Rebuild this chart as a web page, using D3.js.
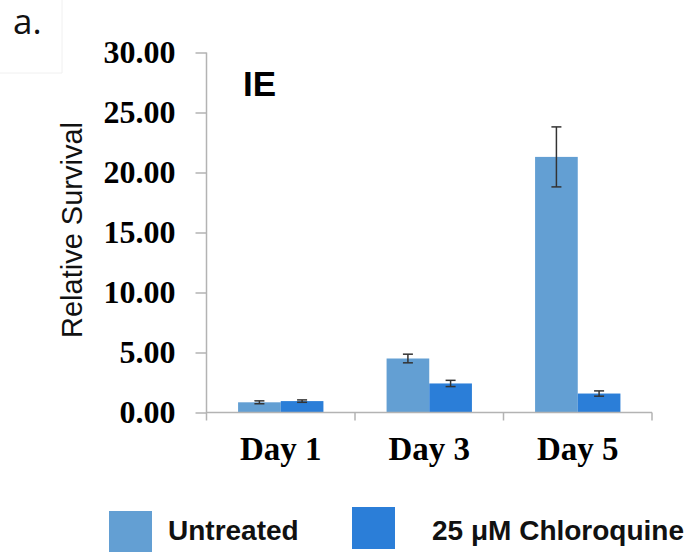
<!DOCTYPE html>
<html>
<head>
<meta charset="utf-8">
<script src="https://cdn.jsdelivr.net/npm/d3@7"></script>
<style>
  body { margin: 0; background: #fff; }
  svg { display: block; }
</style>
</head>
<body>
<div id="chart"></div>
<script>
// chart data
var days = ["Day 1", "Day 3", "Day 5"];
var series = ["Untreated", "25 \u03bcM Chloroquine"];
var untreated = [0.85, 4.5, 21.3];
var untreatedErr = [0.12, 0.36, 2.5];
var chloroquine = [0.95, 2.42, 1.58];
var chloroquineErr = [0.1, 0.26, 0.22];
var yTicks = [0, 5, 10, 15, 20, 25, 30];
var colors = ["#639fd3", "#2b7ed8"];

var width = 692, height = 552;

var svg = d3.select("#chart").append("svg")
  .attr("width", width)
  .attr("height", height);

// faint frame round the panel letter
svg.append("path")
  .attr("d", "M62,0V73H0")
  .attr("fill", "none")
  .attr("stroke", "#f0f0f0");

svg.append("text")
  .attr("x", 13).attr("y", 34)
  .style("font-family", "'Open Sans', sans-serif")
  .style("font-size", "35px")
  .attr("fill", "#111")
  .text("a.");

// scales
var y = d3.scaleLinear().domain([0, 30]).range([412.5, 52.5]);
var x0 = d3.scaleBand().domain(days).range([206.5, 652]).padding(0);
var x1 = d3.scaleBand().domain(series).range([0, x0.bandwidth()])
  .paddingInner(0).paddingOuter(0.74);

// rows for the bars
var rows = [];
days.forEach(function(d, i) {
  rows.push({day: d, s: series[0], v: untreated[i], e: untreatedErr[i], c: colors[0]});
  rows.push({day: d, s: series[1], v: chloroquine[i], e: chloroquineErr[i], c: colors[1]});
});

// y axis
var yAxis = svg.append("g")
  .attr("transform", "translate(206.5,0)")
  .call(d3.axisLeft(y).tickValues(yTicks).tickSize(11).tickPadding(20)
    .tickFormat(d3.format(".2f")));
yAxis.select(".domain").remove();
yAxis.selectAll(".tick line").attr("stroke", "#b3b3b3").attr("stroke-width", 1.5);
yAxis.selectAll(".tick text")
  .style("font-family", "'Liberation Serif', 'Times New Roman', serif")
  .style("font-weight", "bold")
  .style("font-size", "32px")
  .attr("fill", "#000");

svg.append("line")
  .attr("x1", 206.5).attr("x2", 206.5)
  .attr("y1", y(30)).attr("y2", y(0) + 8)
  .attr("stroke", "#b3b3b3").attr("stroke-width", 1.5);

// bars
svg.selectAll("rect.bar")
  .data(rows)
  .enter()
  .append("rect")
  .classed("bar", true)
  .attr("x", function(d) { return x0(d.day) + x1(d.s); })
  .attr("width", x1.bandwidth())
  .attr("y", function(d) { return y(d.v); })
  .attr("height", function(d) { return y(0) - y(d.v); })
  .attr("fill", function(d) { return d.c; });

// x axis line + boundary ticks
svg.append("line")
  .attr("x1", x0.range()[0]).attr("x2", x0.range()[1])
  .attr("y1", y(0)).attr("y2", y(0))
  .attr("stroke", "#b3b3b3").attr("stroke-width", 1.5);

var edges = days.map(function(d) { return x0(d); }).concat([x0.range()[1]]);
svg.selectAll("line.xtick")
  .data(edges.slice(1))
  .enter()
  .append("line")
  .classed("xtick", true)
  .attr("x1", function(d) { return d; }).attr("x2", function(d) { return d; })
  .attr("y1", y(0)).attr("y2", y(0) + 8)
  .attr("stroke", "#b3b3b3").attr("stroke-width", 1.5);

svg.selectAll("text.xlab")
  .data(days)
  .enter()
  .append("text")
  .classed("xlab", true)
  .attr("x", function(d) { return x0(d) + x0.bandwidth() / 2; })
  .attr("y", 460)
  .attr("text-anchor", "middle")
  .style("font-family", "'Liberation Serif', 'Times New Roman', serif")
  .style("font-weight", "bold")
  .style("font-size", "33px")
  .text(function(d) { return d; });

// error bars
var err = svg.selectAll("g.err")
  .data(rows)
  .enter()
  .append("g")
  .classed("err", true)
  .attr("stroke", "#333")
  .attr("stroke-width", 1.5);

err.append("line")
  .attr("x1", function(d) { return x0(d.day) + x1(d.s) + x1.bandwidth() / 2; })
  .attr("x2", function(d) { return x0(d.day) + x1(d.s) + x1.bandwidth() / 2; })
  .attr("y1", function(d) { return y(d.v + d.e); })
  .attr("y2", function(d) { return y(d.v - d.e); });
[1, -1].forEach(function(sign) {
  err.append("line")
    .attr("x1", function(d) { return x0(d.day) + x1(d.s) + x1.bandwidth() / 2 - 5; })
    .attr("x2", function(d) { return x0(d.day) + x1(d.s) + x1.bandwidth() / 2 + 5; })
    .attr("y1", function(d) { return y(d.v + sign * d.e); })
    .attr("y2", function(d) { return y(d.v + sign * d.e); });
});

// labels
svg.append("text")
  .attr("x", 243).attr("y", 96)
  .style("font-family", "'Liberation Sans', Arial, sans-serif")
  .style("font-weight", "bold")
  .style("font-size", "35px")
  .text("IE");

svg.append("text")
  .attr("transform", "translate(81.5,230) rotate(-90)")
  .attr("text-anchor", "middle")
  .style("font-family", "'Liberation Sans', Arial, sans-serif")
  .style("font-size", "29px")
  .attr("fill", "#111")
  .text("Relative Survival");

// legend
var legendX = [109, 352];
var legendY = [511, 507];
var legend = svg.selectAll("g.legend")
  .data(series)
  .enter()
  .append("g")
  .classed("legend", true)
  .attr("transform", function(d, i) { return "translate(" + legendX[i] + "," + legendY[i] + ")"; });

legend.append("rect")
  .attr("width", 43).attr("height", 42)
  .attr("fill", function(d, i) { return colors[i]; });

legend.append("text")
  .attr("x", function(d, i) { return i === 0 ? 59 : 80; })
  .attr("y", function(d, i) { return 540 - legendY[i]; })
  .style("font-family", "'Liberation Sans', Arial, sans-serif")
  .style("font-weight", "bold")
  .style("font-size", "28px")
  .attr("fill", "#111")
  .text(function(d) { return d; });
</script>
</body>
</html>
